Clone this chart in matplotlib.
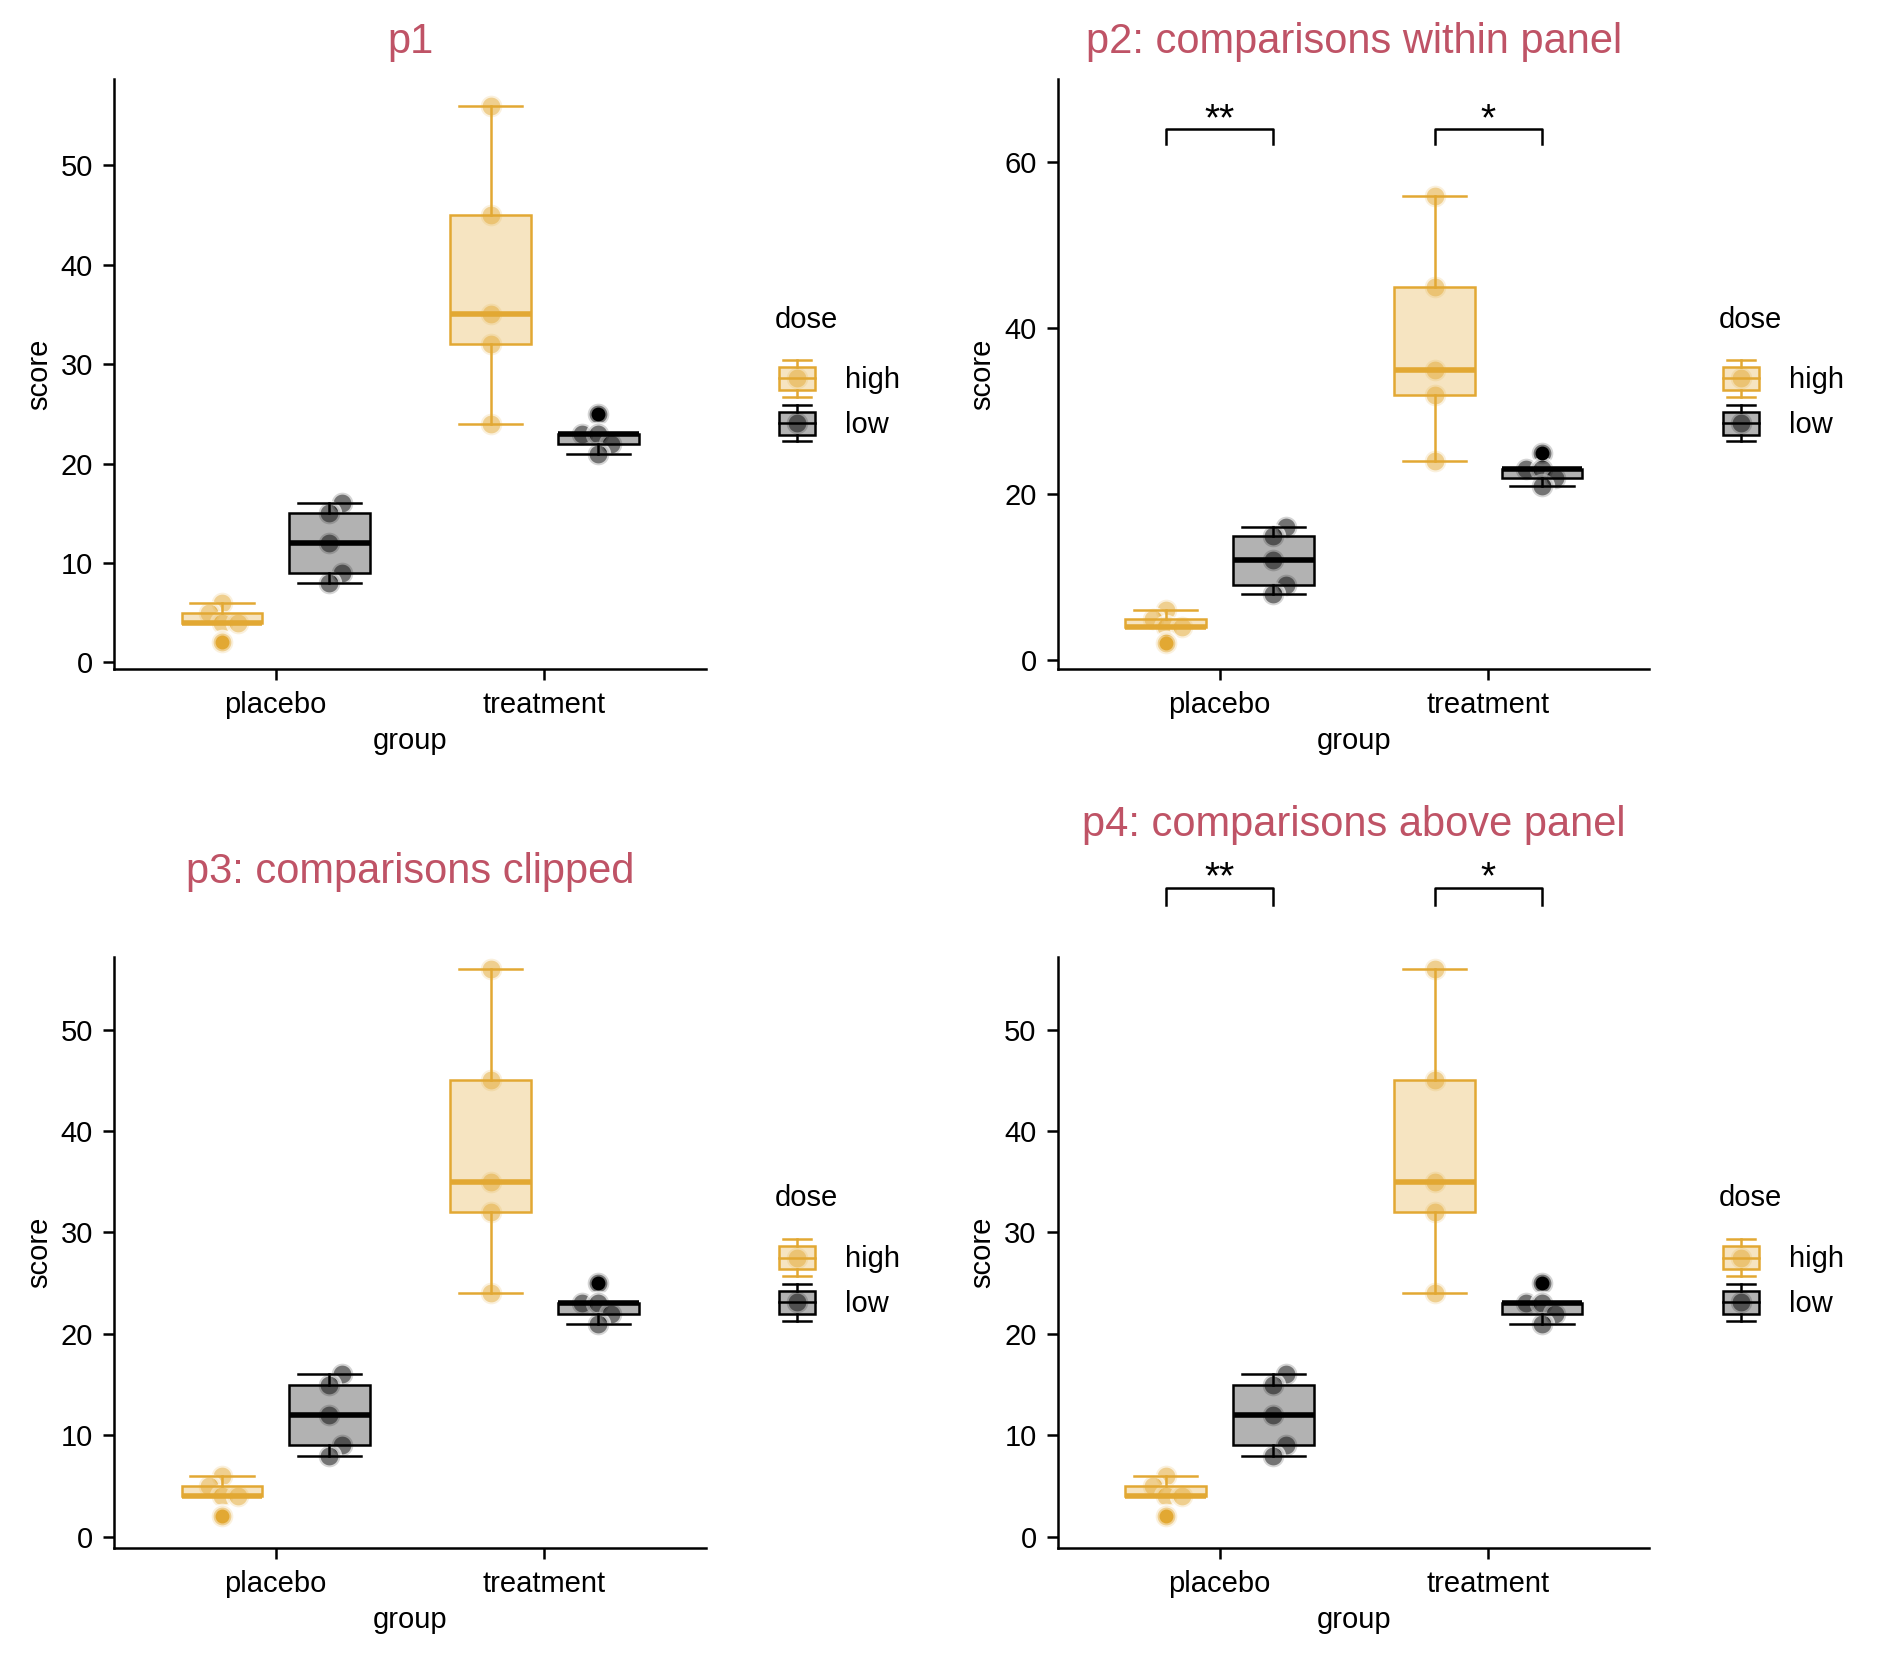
import matplotlib
matplotlib.use('Agg')
import matplotlib.pyplot as plt
import numpy as np
from matplotlib.legend_handler import HandlerBase
from matplotlib.patches import Rectangle
from matplotlib.lines import Line2D
from matplotlib.colors import to_rgba

plt.rcParams['font.family'] = ['Liberation Sans', 'DejaVu Sans']

# ---------------- data ----------------
groups = ['placebo', 'treatment']
doses = ['high', 'low']
placebo_high = [6, 5, 4, 4, 2]
placebo_low = [16, 15, 12, 9, 8]
treatment_high = [56, 45, 35, 32, 24]
treatment_low = [25, 23, 23, 22, 21]
# horizontal jitter of each point (in group units)
jitter_placebo_high = [0.0, -0.047, 0.0, 0.06, 0.0]
jitter_placebo_low = [0.048, 0.0, 0.0, 0.048, 0.0]
jitter_treatment_high = [0.0, 0.0, 0.0, 0.0, 0.0]
jitter_treatment_low = [0.0, -0.06, 0.0, 0.049, 0.0]
sig_labels = ['**', '*']
sig_y = 64.0
sig_tip = 62.25
titles = ['p1', 'p2: comparisons within panel',
          'p3: comparisons clipped', 'p4: comparisons above panel']

values = {('placebo', 'high'): placebo_high, ('placebo', 'low'): placebo_low,
          ('treatment', 'high'): treatment_high, ('treatment', 'low'): treatment_low}
jitters = {('placebo', 'high'): jitter_placebo_high, ('placebo', 'low'): jitter_placebo_low,
           ('treatment', 'high'): jitter_treatment_high, ('treatment', 'low'): jitter_treatment_low}

# ---------------- style ----------------
COL = {'high': '#E2A833', 'low': '#000000'}
TITLE_COL = '#BF5366'
FS = 10.5
TITLE_FS = 15.0
STAR_FS = 14.0
DPI = 200
W, H = 1889, 1653
LW = 0.9
PT_MS = 7.8
PT_MEW = 1.4
PT_EDGE = (1, 1, 1, 0.7)

fig = plt.figure(figsize=(W / DPI, H / DPI), dpi=DPI)


class BoxKey:
    def __init__(self, dose):
        self.dose = dose


class BoxKeyHandler(HandlerBase):
    def create_artists(self, legend, orig_handle, xdescent, ydescent,
                       width, height, fontsize, trans):
        col = COL[orig_handle.dose]
        x0, y0 = -xdescent, -ydescent
        cx, cy = x0 + width / 2, y0 + height / 2
        bh = height * 0.37
        wh = height * 0.57
        sw = width * 0.38
        arts = []
        pt = Line2D([cx], [cy], marker='o', linestyle='none', markersize=PT_MS,
                    markerfacecolor=to_rgba(col, 0.55), markeredgecolor=PT_EDGE,
                    markeredgewidth=PT_MEW, transform=trans)
        arts.append(pt)
        r = Rectangle((x0, cy - bh), width, 2 * bh, facecolor=to_rgba(col, 0.3),
                      edgecolor=col, linewidth=LW, transform=trans)
        arts.append(r)
        arts.append(Line2D([x0, x0 + width], [cy, cy], color=col, linewidth=LW, transform=trans))
        arts.append(Line2D([cx, cx], [cy + bh, cy + wh], color=col, linewidth=LW, transform=trans))
        arts.append(Line2D([cx, cx], [cy - bh, cy - wh], color=col, linewidth=LW, transform=trans))
        arts.append(Line2D([cx - sw, cx + sw], [cy + wh, cy + wh], color=col, linewidth=LW, transform=trans))
        arts.append(Line2D([cx - sw, cx + sw], [cy - wh, cy - wh], color=col, linewidth=LW, transform=trans))
        return arts


def draw_panel(rect, ylim, yticks, title, title_pad_px, brackets, leg_y, leg_title_y):
    ax = fig.add_axes(rect)
    for gi, g in enumerate(groups):
        for di, d in enumerate(doses):
            col = COL[d]
            pos = gi + 1 + (-0.2 if d == 'high' else 0.2)
            vals = values[(g, d)]
            jit = jitters[(g, d)]
            ax.plot(pos + np.array(jit), vals, linestyle='none', marker='o',
                    markersize=PT_MS, markerfacecolor=to_rgba(col, 0.55),
                    markeredgecolor=PT_EDGE, markeredgewidth=PT_MEW, zorder=2)
            ax.boxplot([vals], positions=[pos], widths=0.3, patch_artist=True,
                       capwidths=[0.235], whis=1.5, manage_ticks=False, zorder=3,
                       boxprops=dict(facecolor=to_rgba(col, 0.3), edgecolor=col, linewidth=LW),
                       medianprops=dict(color=col, linewidth=2.0, solid_capstyle='butt'),
                       whiskerprops=dict(color=col, linewidth=LW),
                       capprops=dict(color=col, linewidth=LW),
                       flierprops=dict(marker='o', markerfacecolor=col,
                                       markeredgecolor='none', markersize=5.0))
    if brackets:
        for gi, lab in enumerate(sig_labels):
            xl, xr = gi + 1 - 0.2, gi + 1 + 0.2
            ax.plot([xl, xl, xr, xr], [sig_tip, sig_y, sig_y, sig_tip], color='black',
                    linewidth=LW, clip_on=False, zorder=4)
            ax.text(gi + 1, sig_y - 0.1, lab, ha='center', va='baseline', fontsize=STAR_FS,
                    clip_on=False)
    ax.set_xlim(0.4, 2.6)
    ax.set_ylim(*ylim)
    ax.set_yticks(yticks)
    ax.set_xticks([1, 2])
    ax.set_xticklabels(groups)
    for s in ['top', 'right']:
        ax.spines[s].set_visible(False)
    for s in ['left', 'bottom']:
        ax.spines[s].set_linewidth(LW)
    ax.tick_params(axis='both', length=4.0, width=LW, pad=3.8, labelsize=FS, colors='black')
    ax.set_xlabel('group', fontsize=FS)
    ax.set_ylabel('score', fontsize=FS)
    ax.xaxis.set_label_coords(0.5, -0.1214)
    ax.xaxis.label.set_va('center')
    ax.yaxis.set_label_coords(-0.128, 0.5)
    ax.yaxis.label.set_va('center')
    ax.set_title(title, color=TITLE_COL, fontsize=TITLE_FS, pad=title_pad_px * 72 / DPI)
    handles = [BoxKey('high'), BoxKey('low')]
    ax.legend(handles, doses, handler_map={BoxKey: BoxKeyHandler()}, loc='center left',
              bbox_to_anchor=(1.1235, leg_y), bbox_transform=ax.transAxes, frameon=False,
              borderpad=0, borderaxespad=0, handlelength=1.25, handleheight=1.3,
              labelspacing=0.45, handletextpad=1.02, fontsize=FS)
    ax.text(1.1172, leg_title_y, 'dose', transform=ax.transAxes, ha='left', va='center',
            fontsize=FS)
    return ax


top_rect_y, top_h = 0.5951, 0.35723
bot_rect_y, bot_h = 0.06334, 0.3579
left_x, right_x, pw = 0.06061, 0.56024, 0.31297

draw_panel([left_x, top_rect_y, pw, top_h], (-0.7, 58.7), [0, 10, 20, 30, 40, 50],
           titles[0], 25.5, False, 0.4545, 0.5915)
draw_panel([right_x, top_rect_y, pw, top_h], (-1.12, 70.07), [0, 20, 40, 60],
           titles[1], 25.5, True, 0.4545, 0.5915)
draw_panel([left_x, bot_rect_y, pw, bot_h], (-1.14, 57.18), [0, 10, 20, 30, 40, 50],
           titles[2], 74.0, False, 0.4535, 0.5920)
draw_panel([right_x, bot_rect_y, pw, bot_h], (-1.14, 57.18), [0, 10, 20, 30, 40, 50],
           titles[3], 121.0, True, 0.4535, 0.5920)

fig.savefig('out.png', dpi=DPI, facecolor='white')
